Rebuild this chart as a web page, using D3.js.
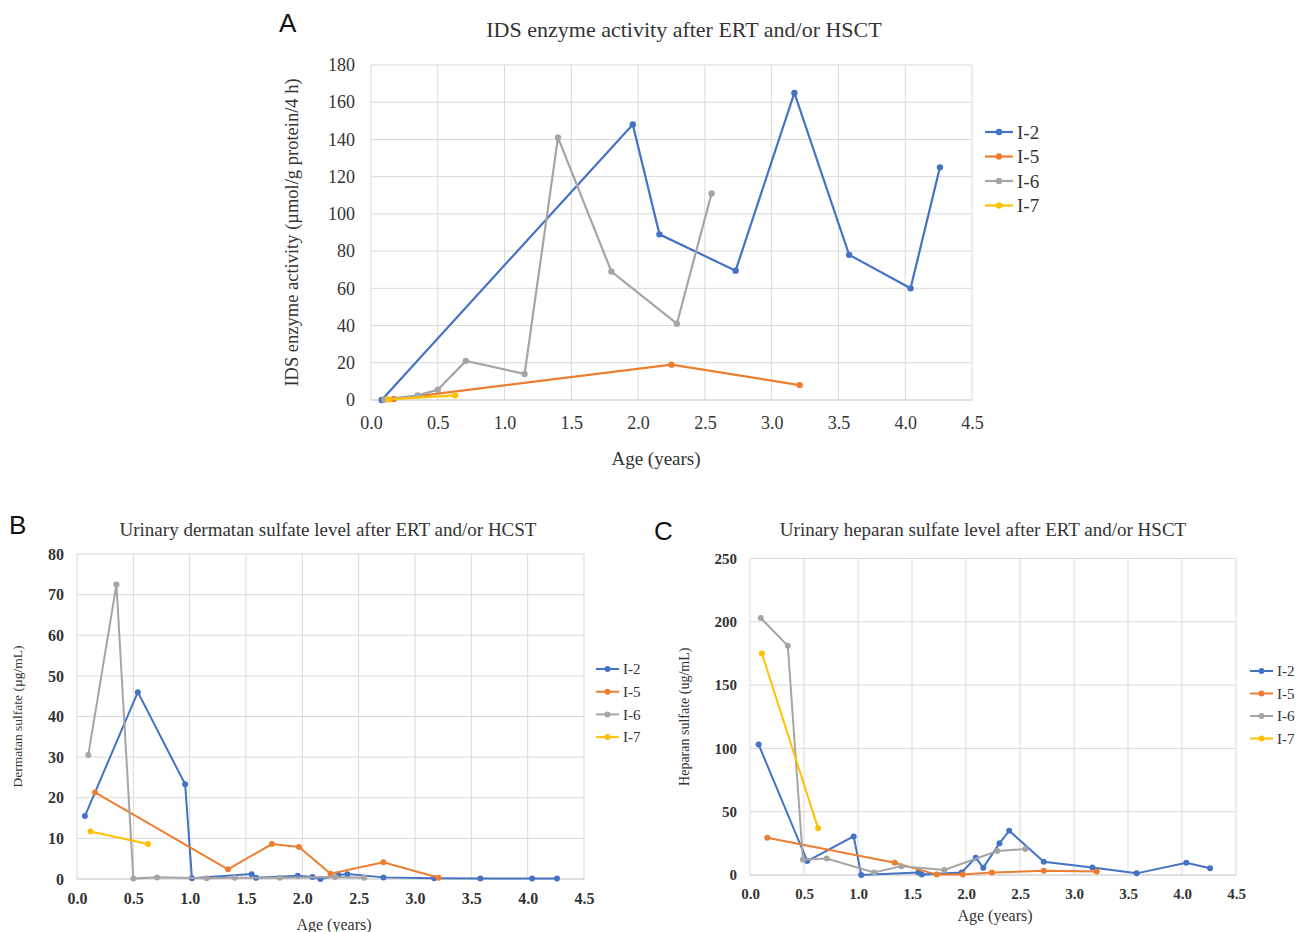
<!DOCTYPE html>
<html>
<head>
<meta charset="utf-8">
<script src="https://cdn.jsdelivr.net/npm/d3@7"></script>
<style>
  body { margin: 0; background: #fff; }
  svg { display: block; }
  text { font-family: "Liberation Serif", "Times New Roman", serif; fill: #333; }
  .letter { font-family: "Liberation Sans", Arial, sans-serif; fill: #111; }
</style>
</head>
<body>
<div class="chart"></div>
<script>
// Series names and colours (Excel defaults)
const seriesNames = ["I-2", "I-5", "I-6", "I-7"];
const seriesColors = ["#4472C4", "#ED7D31", "#A5A5A5", "#FFC000"];

// Shared x ticks (age in years)
const ageTicks = [0, 0.5, 1, 1.5, 2, 2.5, 3, 3.5, 4, 4.5];

// Panel A: IDS enzyme activity, [age, value]
const idsI2 = [[0.08, 0], [1.96, 148], [2.16, 89], [2.73, 69.5], [3.17, 165], [3.58, 78], [4.04, 60], [4.26, 125]];
const idsI5 = [[0.17, 0.5], [2.25, 19], [3.21, 8]];
const idsI6 = [[0.1, 0.3], [0.35, 2.5], [0.5, 5.5], [0.71, 21], [1.15, 14], [1.4, 141], [1.8, 69], [2.29, 41], [2.55, 111]];
const idsI7 = [[0.13, 0.3], [0.63, 2.5]];
const idsTicks = [0, 20, 40, 60, 80, 100, 120, 140, 160, 180];

// Panel B: urinary dermatan sulfate, [age, value]
const dsI2 = [[0.07, 15.5], [0.54, 46], [0.96, 23.3], [1.02, 0.2], [1.55, 1.2], [1.59, 0.3], [1.96, 0.8], [2.09, 0.5], [2.16, 0], [2.32, 1], [2.4, 1.2], [2.72, 0.4], [3.17, 0.2], [3.58, 0.1], [4.04, 0.1], [4.26, 0.1]];
const dsI5 = [[0.16, 21.3], [1.34, 2.4], [1.73, 8.6], [1.97, 7.9], [2.25, 1.3], [2.72, 4.1], [3.21, 0.3]];
const dsI6 = [[0.1, 30.5], [0.35, 72.5], [0.5, 0.1], [0.71, 0.4], [1.15, 0.2], [1.4, 0.3], [1.8, 0.3], [2.29, 0.5], [2.55, 0.3]];
const dsI7 = [[0.12, 11.7], [0.63, 8.6]];
const dsTicks = [0, 10, 20, 30, 40, 50, 60, 70, 80];

// Panel C: urinary heparan sulfate, [age, value]
const hsI2 = [[0.08, 103], [0.53, 11], [0.96, 30.5], [1.03, 0], [1.56, 2], [1.59, 0.3], [1.96, 2], [2.09, 13.7], [2.16, 5.8], [2.31, 25], [2.4, 35], [2.72, 10.5], [3.17, 6], [3.58, 1.3], [4.04, 9.7], [4.26, 5.3]];
const hsI5 = [[0.16, 29.5], [1.34, 9.7], [1.73, 0.3], [1.97, 0.3], [2.24, 2], [2.72, 3.3], [3.21, 2.8]];
const hsI6 = [[0.1, 203], [0.35, 181], [0.49, 12], [0.71, 13], [1.15, 2], [1.4, 7], [1.8, 4], [2.29, 19], [2.55, 20.5]];
const hsI7 = [[0.11, 175], [0.63, 37]];
const hsTicks = [0, 50, 100, 150, 200, 250];

const svg = d3.select(".chart").append("svg")
  .attr("width", 1302)
  .attr("height", 932);

// Draw one panel
function drawPanel(p) {
  const x = d3.scaleLinear().domain([0, 4.5]).range([p.left, p.right]);
  const y = d3.scaleLinear().domain([0, p.yMax]).range([p.bottom, p.top]);
  const g = svg.append("g");

  // grid lines
  g.append("g")
    .selectAll("line")
    .data(ageTicks)
    .join("line")
    .attr("x1", d => x(d)).attr("x2", d => x(d))
    .attr("y1", p.top).attr("y2", p.bottom)
    .attr("stroke", "#d9d9d9").attr("stroke-width", 1);
  g.append("g")
    .selectAll("line")
    .data(p.yTicks)
    .join("line")
    .attr("x1", p.left).attr("x2", p.right)
    .attr("y1", d => y(d)).attr("y2", d => y(d))
    .attr("stroke", d => d === 0 ? "#bfbfbf" : "#d9d9d9").attr("stroke-width", 1);

  // axes (labels only)
  const xAxis = g.append("g")
    .attr("transform", `translate(0,${p.bottom})`)
    .call(d3.axisBottom(x).tickValues(ageTicks).tickFormat(d3.format(".1f")).tickSize(0).tickPadding(p.xPad));
  xAxis.select(".domain").remove();
  xAxis.selectAll("text")
    .style("font-size", p.tickFont + "px")
    .style("font-weight", p.tickWeight)
    .attr("font-family", "Liberation Serif");

  const yAxis = g.append("g")
    .attr("transform", `translate(${p.left},0)`)
    .call(d3.axisLeft(y).tickValues(p.yTicks).tickSize(0).tickPadding(p.yPad));
  yAxis.select(".domain").remove();
  yAxis.selectAll("text")
    .style("font-size", p.tickFont + "px")
    .style("font-weight", p.tickWeight)
    .attr("font-family", "Liberation Serif");

  // series
  const line = d3.line().x(d => x(d[0])).y(d => y(d[1]));
  p.series.forEach((s, i) => {
    g.append("path")
      .datum(s)
      .attr("fill", "none")
      .attr("stroke", seriesColors[i])
      .attr("stroke-width", p.lineWidth)
      .attr("d", line);
    g.selectAll(null)
      .data(s)
      .join("circle")
      .attr("cx", d => x(d[0]))
      .attr("cy", d => y(d[1]))
      .attr("r", p.dot)
      .attr("fill", seriesColors[i]);
  });

  // titles
  g.append("text")
    .attr("x", p.titleX).attr("y", p.titleY)
    .attr("text-anchor", "middle")
    .style("font-size", p.titleFont + "px")
    .text(p.title);
  g.append("text")
    .attr("class", "letter")
    .attr("x", p.letterX).attr("y", p.letterY)
    .style("font-size", "26px")
    .text(p.letter);
  g.append("text")
    .attr("x", p.xLabelX).attr("y", p.xLabelY)
    .attr("text-anchor", "middle")
    .style("font-size", p.labelFont + "px")
    .text("Age (years)");
  g.append("text")
    .attr("transform", `translate(${p.yLabelX},${(p.top + p.bottom) / 2}) rotate(-90)`)
    .attr("text-anchor", "middle")
    .style("font-size", p.yLabelFont + "px")
    .text(p.yLabel);

  // legend
  const lg = g.append("g").attr("transform", `translate(${p.legendX},${p.legendY})`);
  seriesNames.forEach((name, i) => {
    const row = lg.append("g").attr("transform", `translate(0,${i * p.legendStep})`);
    row.append("line")
      .attr("x1", 0).attr("x2", p.legendLen)
      .attr("stroke", seriesColors[i]).attr("stroke-width", p.lineWidth);
    row.append("circle")
      .attr("cx", p.legendLen / 2).attr("r", p.dot)
      .attr("fill", seriesColors[i]);
    row.append("text")
      .attr("x", p.legendLen + 4).attr("dy", "0.35em")
      .style("font-size", p.legendFont + "px")
      .text(name);
  });
}

drawPanel({
  letter: "A", letterX: 279, letterY: 32,
  title: "IDS enzyme activity after ERT and/or HSCT", titleX: 684, titleY: 37, titleFont: 22,
  yLabel: "IDS enzyme activity (\u00b5mol/g protein/4 h)", yLabelX: 298, yLabelFont: 18.5,
  left: 371, right: 972, top: 65, bottom: 400,
  yMax: 180, yTicks: idsTicks,
  series: [idsI2, idsI5, idsI6, idsI7],
  tickFont: 18, tickWeight: "normal", xPad: 16, yPad: 16,
  labelFont: 19, xLabelX: 656, xLabelY: 465,
  lineWidth: 2.2, dot: 3.2,
  legendX: 985, legendY: 132, legendStep: 24.5, legendLen: 28, legendFont: 19
});

drawPanel({
  letter: "B", letterX: 9, letterY: 534,
  title: "Urinary dermatan sulfate level after ERT and/or HCST", titleX: 328, titleY: 536, titleFont: 19,
  yLabel: "Dermatan sulfate (\u00b5g/mL)", yLabelX: 22, yLabelFont: 13.5,
  left: 77, right: 584, top: 554, bottom: 879,
  yMax: 80, yTicks: dsTicks,
  series: [dsI2, dsI5, dsI6, dsI7],
  tickFont: 16, tickWeight: "bold", xPad: 14, yPad: 13,
  labelFont: 16, xLabelX: 334, xLabelY: 930,
  lineWidth: 2, dot: 3,
  legendX: 596, legendY: 669, legendStep: 22.7, legendLen: 23, legendFont: 15
});

drawPanel({
  letter: "C", letterX: 654, letterY: 540,
  title: "Urinary heparan sulfate level after ERT and/or HSCT", titleX: 983, titleY: 536, titleFont: 19,
  yLabel: "Heparan sulfate (ug/mL)", yLabelX: 689, yLabelFont: 14,
  left: 750, right: 1236, top: 558.5, bottom: 875,
  yMax: 250, yTicks: hsTicks,
  series: [hsI2, hsI5, hsI6, hsI7],
  tickFont: 15, tickWeight: "bold", xPad: 13, yPad: 13,
  labelFont: 16, xLabelX: 995, xLabelY: 921,
  lineWidth: 2, dot: 3,
  legendX: 1250, legendY: 671, legendStep: 22.5, legendLen: 23, legendFont: 15
});
</script>
</body>
</html>
